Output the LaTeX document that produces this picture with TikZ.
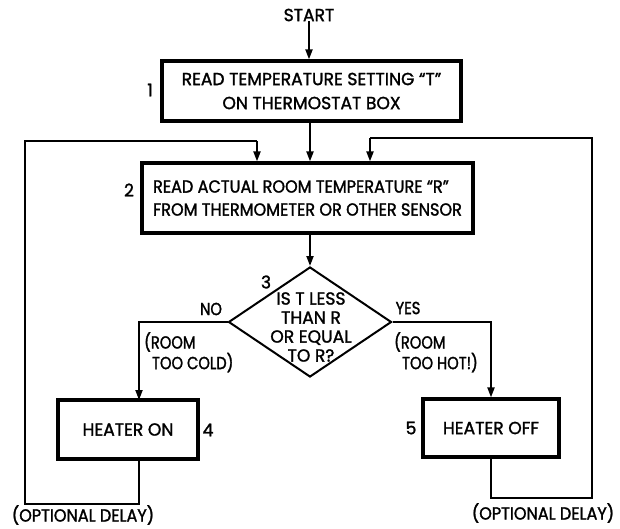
\documentclass[tikz,border=0pt]{standalone}
\usepackage{fontspec}
\setmainfont[FakeStretch=0.98,FakeBold=1.5]{Poppins}
\newfontfamily\narrowf[FakeStretch=0.84,FakeBold=1.5]{Poppins}
\newfontfamily\midf[FakeStretch=0.92,FakeBold=1.5]{Poppins}
\usetikzlibrary{shapes.geometric,arrows.meta}
\begin{document}
\begin{tikzpicture}[x=1pt,y=-1pt,
  every node/.style={font=\fontsize{17.5}{24}\selectfont},
  box/.style={draw,line width=3.2pt,inner sep=0pt},
  line/.style={line width=2pt},
  arr/.style={line width=2pt,-{Triangle[length=10pt,width=7pt]}},
  lbl/.style={inner sep=0pt},
  nlbl/.style={inner sep=0pt,font=\narrowf\fontsize{17.5}{19}\selectfont},
  dtxt/.style={font=\narrowf\fontsize{17.5}{19}\selectfont,align=center,inner sep=0pt}]
\useasboundingbox (0,0) rectangle (620,528);
% nodes
\node[lbl] (start) at (309,15) {START};
\node[box,minimum width=299pt,minimum height=60pt,align=center] (b1) at (311.5,91) {READ TEMPERATURE SETTING “T”\\ON THERMOSTAT BOX};
\node[lbl] (n1) at (150,90) {1};
\node[box,minimum width=331pt,minimum height=70pt,align=left,font=\midf\fontsize{17.5}{23}\selectfont] (b2) at (307.5,198) {READ ACTUAL ROOM TEMPERATURE “R”\\FROM THERMOMETER OR OTHER SENSOR};
\node[lbl] (n2) at (129,190) {2};
\node[diamond,draw,line width=2pt,minimum width=163pt,minimum height=110pt,inner sep=0pt] (d) at (310,322) {};
\node[dtxt,font=\fontsize{17.5}{19}\selectfont] (dt) at (311,327) {IS T LESS\\THAN R\\OR EQUAL\\TO R?};
\node[lbl] (n3) at (266,282) {3};
\node[nlbl] (no) at (211,309) {NO};
\node[nlbl] (yes) at (408,308) {YES};
\node[dtxt,align=left,anchor=north west] (cold) at (144,332) {(ROOM\\\ \ TOO COLD)};
\node[dtxt,align=left,anchor=north west] (hot) at (394,332) {(ROOM\\\ \ TOO HOT!)};
\node[box,minimum width=140pt,minimum height=59pt] (h) at (128,429.5) {HEATER ON};
\node[lbl] (n4) at (208,430) {4};
\node[box,minimum width=136pt,minimum height=58pt] (f) at (491,428) {HEATER OFF};
\node[lbl] (n5) at (411,428) {5};
\node[lbl,font=\midf\fontsize{17.5}{19}\selectfont] (dl) at (83,515) {(OPTIONAL DELAY)};
\node[lbl,font=\midf\fontsize{17.5}{19}\selectfont] (dr) at (543,513) {(OPTIONAL DELAY)};
% coordinates
\coordinate (hin) at (139,400);
\coordinate (hout) at (139,459);
\coordinate (lbot) at (25,504);
\coordinate (ltop) at (25,141);
\coordinate (lin) at (257,141);
\coordinate (rbot) at (592,498);
\coordinate (rtop) at (592,138);
\coordinate (rin) at (370,138);
% connectors
\draw[arr] (start.south) -- (start.south |- b1.north);
\draw[arr] (b1.south -| d.north) -- (b2.north -| d.north);
\draw[arr] (b2.south -| d.north) -- (d.north);
\draw[arr] (d.west) -| (hin);
\draw[arr] (d.east) -| (f.north);
\draw[line] (hout) |- (lbot) -- (ltop) -- (lin);
\draw[arr] (lin) -- (lin |- b2.north);
\draw[line] (f.south) |- (rbot) -- (rtop) -- (rin);
\draw[arr] (rin) -- (rin |- b2.north);
\end{tikzpicture}
\end{document}
